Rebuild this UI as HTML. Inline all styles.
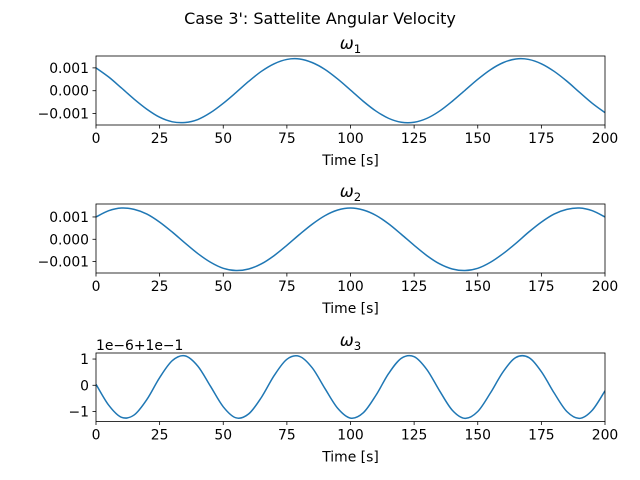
<!DOCTYPE html>
<html><head><meta charset="utf-8"><style>
body{margin:0;background:#fff}
svg{display:block;font-family:"DejaVu Sans","Liberation Sans",sans-serif}
</style></head><body>
<svg id="fig" width="640" height="480" viewBox="0 0 640 480">
<rect width="640" height="480" fill="#fff"/>
<text x="320" y="24" font-size="16" text-anchor="middle">Case 3': Sattelite Angular Velocity</text>
</svg>
<script>
const times=[0,5,10,15,20,25,30,35,40,45,50,55,60,65,70,75,80,85,90,95,100,105,110,115,120,125,130,135,140,145,150,155,160,165,170,175,180,185,190,195,200];
const omega1=[1.00,0.60,0.12,-0.37,-0.81,-1.16,-1.36,-1.39,-1.26,-0.96,-0.55,-0.08,0.41,0.85,1.18,1.37,1.39,1.23,0.93,0.51,0.03,-0.46,-0.89,-1.21,-1.38,-1.38,-1.21,-0.89,-0.46,0.02,0.50,0.92,1.23,1.39,1.37,1.18,0.85,0.42,-0.07,-0.55,-0.96];
const omega2=[1.00,1.28,1.40,1.34,1.13,0.77,0.32,-0.17,-0.64,-1.03,-1.30,-1.40,-1.33,-1.10,-0.73,-0.27,0.22,0.68,1.06,1.31,1.40,1.31,1.07,0.69,0.22,-0.27,-0.73,-1.10,-1.33,-1.40,-1.30,-1.03,-0.64,-0.18,0.32,0.77,1.13,1.34,1.40,1.28,1.00];
const omega3=[0.04,-0.76,-1.22,-1.13,-0.54,0.29,0.94,1.12,0.73,-0.04,-0.82,-1.24,-1.09,-0.46,0.37,0.99,1.10,0.66,-0.13,-0.88,-1.25,-1.05,-0.38,0.45,1.03,1.09,0.60,-0.21,-0.95,-1.26,-1.00,-0.29,0.52,1.06,1.06,0.52,-0.29,-1.00,-1.26,-0.95,-0.21];
const xTicks=[0,25,50,75,100,125,150,175,200];
const yTicks12=[-1,0,1];
const yLabels12=["\u22120.001","0.000","0.001"];
const yLabels3=["\u22121","0","1"];
const NS="http://www.w3.org/2000/svg";
const svg=document.getElementById('fig');
function mk(tag,attrs,parent){const e=document.createElementNS(NS,tag);for(const k in attrs)e.setAttribute(k,attrs[k]);(parent||svg).appendChild(e);return e;}
function panel(top,bottom,ymin,ymax,vals,ylabels,title,key,offsetText){
  const L=96,R=605;
  const g=mk('g',{});
  
  
  const sx=t=>L+(t-0)/(200-0)*(R-L);
  const sy=v=>bottom-(v-ymin)/(ymax-ymin)*(bottom-top);
  const pts=times.map((t,i)=>[sx(t),sy(vals[i])]);
  let d='M'+pts[0][0]+','+pts[0][1];
  for(let i=0;i<pts.length-1;i++){
    const p0=pts[Math.max(0,i-1)],p1=pts[i],p2=pts[i+1],p3=pts[Math.min(pts.length-1,i+2)];
    const c1=[p1[0]+(p2[0]-p0[0])/6,p1[1]+(p2[1]-p0[1])/6];
    const c2=[p2[0]-(p3[0]-p1[0])/6,p2[1]-(p3[1]-p1[1])/6];
    d+=' C'+c1[0]+','+c1[1]+' '+c2[0]+','+c2[1]+' '+p2[0]+','+p2[1];
  }
  const clip=mk('clipPath',{id:'c'+key},g);mk('rect',{x:L,y:top,width:R-L,height:bottom-top},clip);
  const line=mk('path',{d:d,fill:'none',stroke:'#1f77b4','stroke-width':1.5,'clip-path':'url(#c'+key+')'},g);
  
  
  const frame=mk('rect',{x:L,y:top,width:R-L,height:bottom-top,fill:'none',stroke:'#000','stroke-width':0.8},g);
  
  
  xTicks.forEach(t=>{
    mk('line',{x1:sx(t),x2:sx(t),y1:bottom,y2:bottom+3.5,stroke:'#000','stroke-width':0.8},g);
    const tx=mk('text',{x:sx(t),y:bottom+18,'font-size':13.9,'text-anchor':'middle'},g);
    tx.textContent=t;
    
    
  });
  yTicks12.forEach((v,i)=>{
    mk('line',{x1:L-3.5,x2:L,y1:sy(v),y2:sy(v),stroke:'#000','stroke-width':0.8},g);
    const tx=mk('text',{x:L-7,y:sy(v)+5,'font-size':13.9,'text-anchor':'end'},g);
    tx.textContent=ylabels[i];
    
    
  });
  const xl=mk('text',{x:(L+R)/2,y:bottom+40,'font-size':13.9,'text-anchor':'middle'},g);
  xl.textContent='Time [s]';
  
  
  const tt=mk('text',{x:(L+R)/2,y:top-7,'font-size':16.7,'text-anchor':'middle','font-style':'italic'},g);
  tt.textContent='\u03c9';
  const sub=mk('tspan',{'font-size':11.7,'font-style':'normal',dy:4},tt);
  sub.textContent=title;
  
  
  if(offsetText){
    const ot=mk('text',{x:L,y:top-3,'font-size':13.9},g);
    ot.textContent=offsetText;
    
    
  }
}
panel(56,125,-1.50,1.52,omega1,yLabels12,'1','omega1');
panel(204,273,-1.51,1.58,omega2,yLabels12,'2','omega2');
panel(353,421.5,-1.38,1.23,omega3,yLabels3,'3','omega3','1e\u22126+1e\u22121');
</script>
</body></html>
